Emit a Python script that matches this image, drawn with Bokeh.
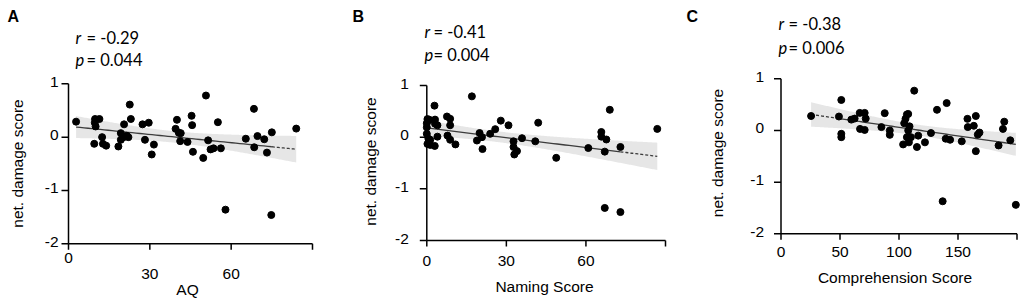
import numpy as np
from bokeh.plotting import figure
from bokeh.layouts import row
from bokeh.models import Label, Range1d
from bokeh.core.properties import value
from bokeh.embed import file_html
from bokeh.resources import INLINE

# ---------------- data ----------------
aq = [2.8, 9.8, 11.4, 9.7, 10.0, 9.5, 12.4, 12.7, 13.9, 18.4, 19.3, 19.3, 20.3, 20.5,
      21.5, 22.1, 22.6, 23.0, 27.3, 28.2, 29.6, 30.7, 31.5, 40.0, 39.5, 40.7, 41.4, 41.2,
      43.9, 45.4, 45.6, 45.9, 49.7, 50.7, 51.5, 52.4, 53.5, 55.1, 56.2, 57.9, 65.4, 68.4,
      68.5, 69.7, 72.2, 73.2, 74.8, 75.0, 84.0]
aq_damage = [0.29, 0.34, 0.34, 0.27, 0.20, -0.125, 0.0, -0.125, -0.16, -0.175, 0.075, -0.05,
             0.0, 0.24, 0.025, 0.0, 0.61, 0.34, 0.24, -0.05, 0.27, -0.325, -0.14, 0.325,
             0.156, 0.08, 0.075, -0.075, -0.09, 0.40, 0.225, -0.275, -0.39, 0.78, -0.06,
             -0.23, -0.21, 0.28, -0.21, -1.36, -0.03, 0.53, -0.19, 0.02, -0.04, -0.29,
             -1.46, 0.09, 0.16]

naming = [0, 0.25, 1.0, 0, 0, 0.6, 1.3, 0.25, 1.3, 2.9, 3.1, 3.1, 4.0, 3.0, 4.0, 7.6, 8.8,
          8.8, 7.8, 8.8, 10.8, 17.0, 18.9, 19.9, 20.8, 21.0, 23.9, 25.8, 27.9, 30.8, 32.7,
          32.7, 33.0, 34.0, 35.9, 40.9, 42.0, 48.8, 60.9, 65.8, 65.8, 67.1, 67.7, 67.1,
          69.0, 73.0, 73.0, 86.9]
naming_damage = [0.27, 0.35, 0.335, 0.19, 0.065, -0.03, -0.05, -0.13, -0.15, 0.61, 0.34,
                 0.26, 0.23, -0.17, 0.01, 0.40, 0.355, 0.23, 0.03, -0.05, -0.14, 0.79,
                 -0.065, 0.08, 0.0, -0.23, 0.065, 0.155, 0.32, 0.23, -0.08, -0.19, -0.335,
                 -0.27, -0.02, -0.08, 0.28, -0.40, -0.21, 0.10, 0.01, -0.28, -0.045, -1.37,
                 0.53, -0.19, -1.45, 0.16]

comp = [25.5, 49.1, 51.1, 51.1, 51.1, 59.6, 62.4, 66.7, 67.0, 70.9, 71.8, 70.9, 85.1, 87.9,
        92.2, 92.2, 103.5, 104.4, 105.5, 106.7, 107.8, 106.7, 107.8, 108.9, 108.4, 110.1,
        112.9, 115.2, 116.3, 122.0, 127.1, 132.2, 139.6, 140.4, 143.3, 137.0, 153.2, 158.0,
        158.3, 163.4, 165.1, 165.1, 166.8, 168.2, 184.4, 188.1, 189.2, 194.3, 199.0]
comp_damage = [0.28, 0.27, 0.59, -0.065, -0.13, 0.21, 0.23, 0.34, 0.03, 0.34, 0.23, 0.01,
               0.065, 0.335, 0.0, -0.085, -0.27, 0.14, 0.225, 0.31, 0.32, -0.13, 0.0, 0.08,
               -0.23, -0.13, 0.77, -0.32, -0.10, -0.23, -0.05, 0.40, -0.16, 0.53, -0.18,
               -1.37, -0.21, 0.225, 0.065, 0.09, 0.28, -0.40, -0.08, -0.04, -0.29, 0.03,
               0.17, -0.19, -1.44]

panel_letters = ["A", "B", "C"]
r_texts = ["= -0.29", "= -0.41", "= -0.38"]
p_texts = ["= 0.044", "= 0.004", "= 0.006"]
x_titles = ["AQ", "Naming Score", "Comprehension Score"]
y_title = "net. damage score"
y_ticks = [-2, -1, 0, 1]
y_tick_labels = ["-2", "-1", "0", "1"]
x_ticks_a = [0, 30, 60, 90]
x_labels_a = ["", "30", "60", ""]
x_ticks_b = [0, 30, 60, 90]
x_labels_b = ["0", "30", "60", ""]
x_ticks_c = [0, 50, 100, 150, 200]
x_labels_c = ["0", "50", "100", "150", ""]

T95 = 2.01
TICK_FONT = "Liberation Sans"
STAT_FONT = "Lato"
W, H = 340, 298


def fit(x, y):
    x = np.asarray(x, float)
    y = np.asarray(y, float)
    n = len(x)
    b, a = np.polyfit(x, y, 1)
    s = np.sqrt(np.sum((y - (a + b * x)) ** 2) / (n - 2))
    sxx = np.sum((x - x.mean()) ** 2)

    def f(xs):
        xs = np.asarray(xs, float)
        yh = a + b * xs
        se = s * np.sqrt(1.0 / n + (xs - x.mean()) ** 2 / sxx)
        return yh, yh - T95 * se, yh + T95 * se
    return f


def label(p, x, y, text, font, size, style="normal", align="left", baseline="alphabetic",
          angle=0.0):
    p.add_layout(Label(x=x, y=y, x_units="canvas", y_units="canvas", text=text,
                       text_font=font, text_font_size=size, text_font_style=style,
                       text_color="black", text_align=align, text_baseline=baseline,
                       angle=angle))


def make_panel(x, y, xticks, xlabels, cfg, idx):
    ox, ox_end = cfg["x_px"]          # pixel of x=0 and of last tick
    oy1, oy2 = cfg["y_px"]            # pixel of y=1 and y=-2
    kx = (ox_end - ox) / xticks[-1]
    ky = (oy2 - oy1) / 3.0

    def X(px):
        return (px - ox) / kx

    def Y(py):
        return 1 - (py - oy1) / ky

    p = figure(width=W, height=H, x_range=Range1d(X(0), X(W)), y_range=Range1d(Y(H), Y(0)),
               x_axis_type=None, y_axis_type=None, output_backend="svg",
               toolbar_location=None, min_border=0)
    p.min_border_left = p.min_border_right = p.min_border_top = p.min_border_bottom = 0
    p.outline_line_color = None
    p.background_fill_color = "white"
    p.border_fill_color = "white"

    # regression band and line
    f = fit(x, y)
    xs = np.linspace(min(x), max(x), 200)
    yh, lo, hi = f(xs)
    p.varea(x=xs, y1=lo, y2=hi, fill_color="#e6e6e6", fill_alpha=1.0)
    bx = cfg["dash_break"]
    if cfg["dash_side"] == "right":
        xs_solid = np.linspace(min(x), bx, 50)
        xs_dash = np.linspace(bx, max(x), 20)
    else:
        xs_dash = np.linspace(min(x), bx, 20)
        xs_solid = np.linspace(bx, max(x), 50)
    p.line(xs_solid, f(xs_solid)[0], line_color="#3c3c3c", line_width=1.3)
    p.line(xs_dash, f(xs_dash)[0], line_color="#3c3c3c", line_width=1.3, line_dash="3 2")

    # axes
    ymin, ymax = y_ticks[0], y_ticks[-1]
    p.segment(x0=[0, 0], y0=[ymin, ymin], x1=[0, xticks[-1]], y1=[ymax, ymin],
              line_color="black", line_width=1.5)
    p.segment(x0=[0] * len(y_ticks), y0=y_ticks, x1=[-7 / kx] * len(y_ticks), y1=y_ticks,
              line_color="black", line_width=1.5)
    p.segment(x0=xticks, y0=[ymin] * len(xticks), x1=xticks,
              y1=[ymin - 6 / ky] * len(xticks), line_color="black", line_width=1.5)
    p.text(x=[0] * len(y_ticks), y=y_ticks, text=y_tick_labels, x_offset=-cfg["ygap"],
           y_offset=-2, text_align="right", text_baseline="middle",
           text_font=value(TICK_FONT), text_font_size="15.5px", text_color="black")
    p.text(x=xticks, y=[ymin] * len(xticks), text=xlabels, y_offset=cfg["xlab_off"],
           text_align="center", text_baseline="alphabetic",
           text_font=value(TICK_FONT), text_font_size="15.5px", text_color="black")
    if "zero_off" in cfg:
        p.text(x=[0], y=[ymin], text=["0"], y_offset=cfg["zero_off"], text_align="center",
               text_baseline="alphabetic", text_font=value(TICK_FONT),
               text_font_size="15.5px", text_color="black")

    # data points
    p.scatter(x, y, size=7, fill_color="black", line_color="black")

    # texts
    lx, ly = cfg["letter"]
    label(p, lx, ly, panel_letters[idx], TICK_FONT, "16px", style="bold")
    rx, ex = cfg["r_x"], cfg["eq_x"]
    for letter, t, base in (("r", r_texts[idx], cfg["r_base"]),
                            ("p", p_texts[idx], cfg["p_base"])):
        label(p, rx, base, letter, STAT_FONT, "16.5px", style="italic")
        label(p, ex, base, t, STAT_FONT, "16.5px")
    yx, yy = cfg["ytitle"]
    label(p, yx, yy, y_title, TICK_FONT, "15.5px", align="center", baseline="middle",
          angle=np.pi / 2)
    tx, ty = cfg["xtitle"]
    label(p, tx, ty, x_titles[idx], TICK_FONT, "15.5px", align="center")
    return p


cfgA = dict(x_px=(68, 312), y_px=(83.3, 243.3), ygap=10, xlab_off=30, zero_off=14.5,
            dash_break=75.0, dash_side="right", letter=(7, 16), r_x=75, eq_x=86,
            r_base=37.5, p_base=59.5, ytitle=(16.5, 163), xtitle=(187, 289))
cfgB = dict(x_px=(86.3, 325), y_px=(85, 240), ygap=18, xlab_off=20,
            dash_break=73.0, dash_side="right", letter=(12, 15.5), r_x=84, eq_x=93,
            r_base=31.5, p_base=54.5, ytitle=(29.5, 161), xtitle=(204, 286))
cfgC = dict(x_px=(100.5, 336.5), y_px=(78.3, 233.3), ygap=17, xlab_off=18,
            dash_break=47.7, dash_side="left", letter=(6, 15.5), r_x=98, eq_x=108,
            r_base=23.5, p_base=47.5, ytitle=(36.5, 152.5), xtitle=(214.5, 276.5))

pA = make_panel(aq, aq_damage, x_ticks_a, x_labels_a, cfgA, 0)
pB = make_panel(naming, naming_damage, x_ticks_b, x_labels_b, cfgB, 1)
pC = make_panel(comp, comp_damage, x_ticks_c, x_labels_c, cfgC, 2)

layout = row(pA, pB, pC)
open("out.html", "w").write(file_html(layout, INLINE))
